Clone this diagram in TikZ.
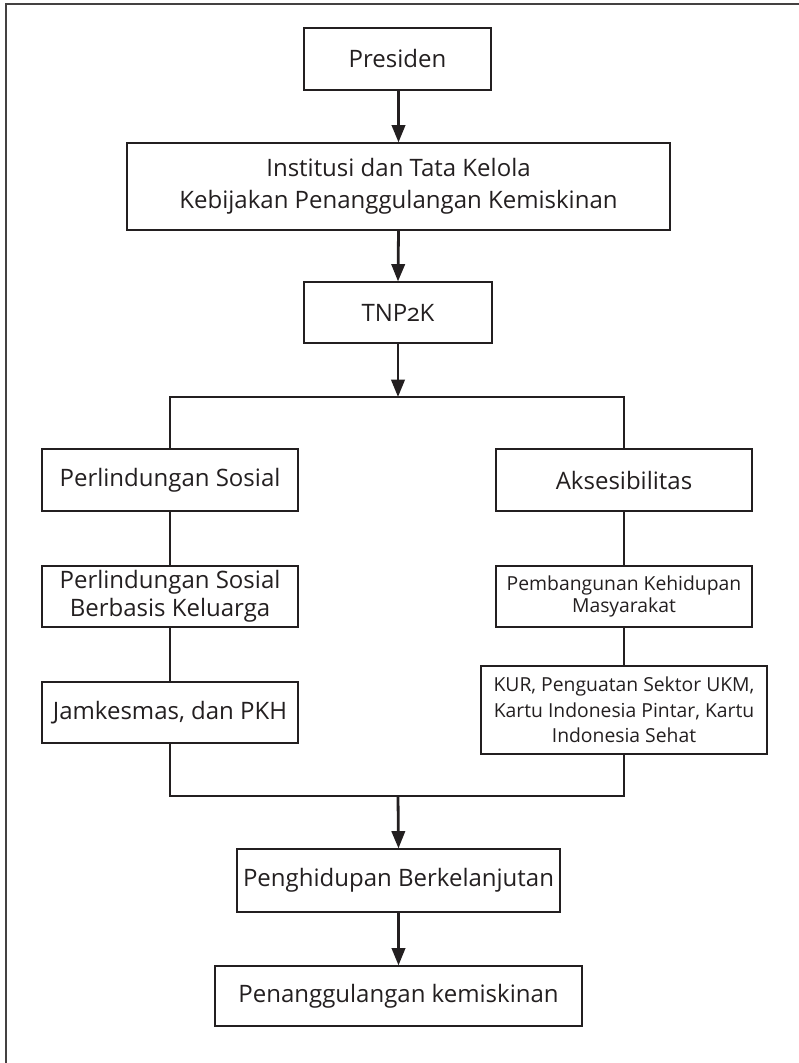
\documentclass[tikz,border=0pt]{standalone}
\usepackage{fontspec}
\setmainfont{Open Sans}[Numbers=OldStyle]
\usetikzlibrary{arrows.meta}
\definecolor{ink}{HTML}{231F20}
\tikzset{
  box/.style={draw=ink, line width=0.9pt, rectangle, inner sep=0pt, align=center,
    text=ink, font=\fontsize{18}{24}\selectfont},
  smallbox/.style={box, font=\fontsize{14.5}{19}\selectfont},
  size/.style 2 args={minimum width={#1*0.75pt}, minimum height={#2*0.75pt}},
  link/.style={draw=ink, line width=2.1pt},
  flow/.style={link, -{Triangle[width=10pt,length=13pt]}},
}
\begin{document}
\begin{tikzpicture}[x=0.75pt,y=-0.75pt]
  \useasboundingbox (0,0) rectangle (799,1063);
  % page frame: only the left and top rules are visible
  \draw[draw=ink!85, line width=1.3pt] (6,1063) -- (6,4) -- (799,4);

  % boxes
  \node[box, size={187}{62}] (pres) at (397.5,59) {Presiden};
  \node[box, size={543}{87}] (inst) at (398.5,186.5)
    {Institusi dan Tata Kelola\\Kebijakan Penanggulangan Kemiskinan};
  \node[box, size={188}{61}] (tnp) at (398,312.5) {TNP2K};

  \node[box, size={256}{62}] (ps) at (170,480) {Perlindungan Sosial};
  \node[box, size={256}{61}, font=\fontsize{18}{21}\selectfont] (psbk) at (170,596.5)
    {Perlindungan Sosial\\Berbasis Keluarga};
  \node[box, size={256}{61}] (jam) at (170,712.5) {Jamkesmas, dan PKH};

  \node[box, size={256}{62}] (aks) at (624,480) {Aksesibilitas};
  \node[smallbox, size={256}{61}, font=\fontsize{14.5}{16.5}\selectfont] (pkm) at (624,596.5)
    {Pembangunan Kehidupan\\Masyarakat};
  \node[smallbox, size={286}{88}] (kur) at (624,710)
    {KUR, Penguatan Sektor UKM,\\Kartu Indonesia Pintar, Kartu\\Indonesia Sehat};

  \node[box, size={323}{63}] (peng) at (398.5,880.5) {Penghidupan Berkelanjutan};
  \node[box, size={367}{60}] (pen) at (398.5,996) {Penanggulangan kemiskinan};

  % branch and merge points
  \coordinate (split) at (398,397);
  \coordinate (merge) at (398,796);

  % connectors
  \draw[flow] (pres.south -| inst.north) -- (inst.north);
  \draw[flow] (inst.south) -- (tnp.north);
  \draw[flow] (tnp.south) -- (split);
  \draw[link] (ps.north) |- (split) -| (aks.north);
  \draw[link] (ps.south) -- (psbk.north);
  \draw[link] (psbk.south) -- (jam.north);
  \draw[link] (aks.south) -- (pkm.north);
  \draw[link] (pkm.south) -- (kur.north);
  \draw[link] (jam.south) |- (merge) -| (kur.south);
  \draw[flow] (merge) -- (peng.north);
  \draw[flow] (peng.south) -- (pen.north);
\end{tikzpicture}
\end{document}
